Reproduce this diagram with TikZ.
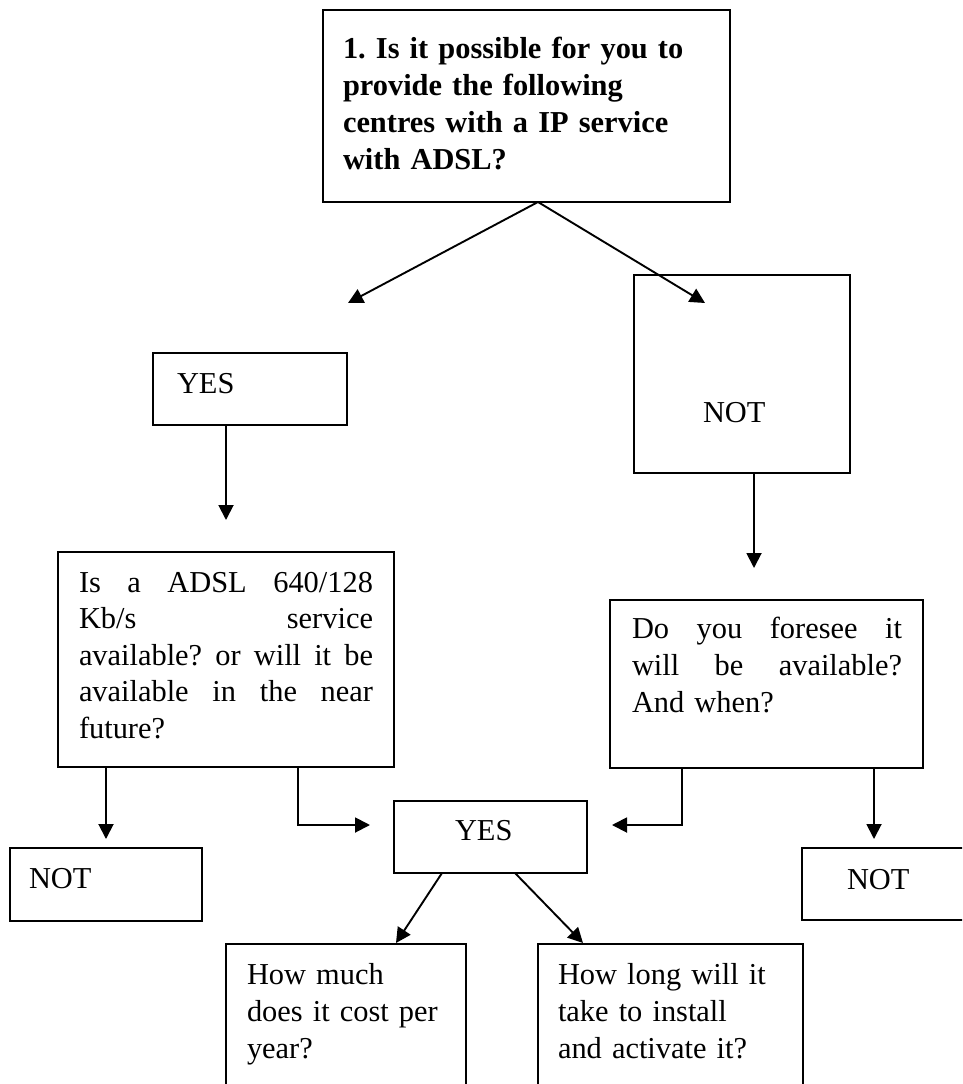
\documentclass[tikz,border=0pt]{standalone}
\usepackage{fontspec}
\setmainfont{Liberation Serif}
\usetikzlibrary{arrows.meta}
\frenchspacing
\newcommand{\jline}[2]{\leavevmode\hbox to #1{#2}}
\begin{document}
\begin{tikzpicture}[x=1pt,y=-1pt,
  box/.style={draw, line width=2.2pt, inner sep=0pt, outer sep=0pt, anchor=north west},
  txt/.style={inner sep=0pt, outer sep=0pt, anchor=base west, align=left, font=\frenchspacing\fontsize{30.4}{37.2}\selectfont},
  arr/.style={line width=1.9pt, -{Triangle[length=15pt,width=15pt]}}]
\useasboundingbox (0,0) rectangle (962,1084);
\fill[white] (0,0) rectangle (962,1084);
\clip (0,0) rectangle (962,1084);

% boxes
\node[box, minimum width=407pt, minimum height=192pt] (q1) at (323,10) {};
\node[box, minimum width=194pt, minimum height=72pt] (yes1) at (153,353) {};
\node[box, minimum width=216pt, minimum height=198pt] (not1) at (634,275) {};
\node[box, minimum width=336pt, minimum height=215pt] (adsl) at (58,552) {};
\node[box, minimum width=313pt, minimum height=168pt] (fore) at (610,600) {};
\node[box, minimum width=192pt, minimum height=73pt] (notL) at (10,848) {};
\node[box, minimum width=193pt, minimum height=72pt] (yes2) at (394,801) {};
\node[box, minimum width=200pt, minimum height=72pt] (notR) at (802,848) {};
\node[box, minimum width=240pt, minimum height=200pt] (cost) at (226,944) {};
\node[box, minimum width=265pt, minimum height=200pt] (inst) at (538,944) {};

% texts
\node[txt, text width=390pt, font=\frenchspacing\fontsize{30.4}{37.3}\selectfont\bfseries] (q1t) at (343,58)
  {1. Is it possible for you to\\provide the following\\centres with a IP service\\with ADSL?};
\node[txt] (yes1t) at (177,393) {YES};
\node[txt] (not1t) at (703,422) {NOT};
\node[txt, text width=300pt, font=\frenchspacing\fontsize{30.4}{36.6}\selectfont] (adslt) at (79,592)
  {\jline{294pt}{Is\hfill a\hfill ADSL\hfill 640/128}\\
   \jline{294pt}{Kb/s\hfill service}\\
   \jline{294pt}{available?\hfill or\hfill will\hfill it\hfill be}\\
   \jline{294pt}{available\hfill in\hfill the\hfill near}\\
   future?};
\node[txt, text width=275pt, font=\frenchspacing\fontsize{30.4}{37}\selectfont] (foret) at (632,638)
  {\jline{270pt}{Do\hfill you\hfill foresee\hfill it}\\
   \jline{270pt}{will\hfill be\hfill available?}\\
   And when?};
\node[txt] (notLt) at (29,888) {NOT};
\node[txt] (yes2t) at (455,840) {YES};
\node[txt] (notRt) at (847,889) {NOT};
\node[txt, text width=215pt] (costt) at (247,984) {How much\\does it cost per\\year?};
\node[txt, text width=240pt] (instt) at (558,984) {How long will it\\take to install\\and activate it?};

% connector points
\coordinate (v) at (538,202);
\coordinate (tYes1) at (348,303);
\coordinate (tNot1) at (705,303);
\coordinate (sYes1) at (226,425);
\coordinate (tAdsl) at (226,520);
\coordinate (sNot1) at (754,473);
\coordinate (tFore) at (754,568);
\coordinate (sA1) at (106,767);
\coordinate (tNotL) at (106,839);
\coordinate (sA2) at (298,767);
\coordinate (tY2L) at (370,825);
\coordinate (sF1) at (682,768);
\coordinate (tY2R) at (612,825);
\coordinate (sF2) at (874,768);
\coordinate (tNotR) at (874,839);
\coordinate (sY1) at (442,873);
\coordinate (tCost) at (396,943);
\coordinate (sY2) at (515,873);
\coordinate (tInst) at (583,943);

\draw[arr] (v) -- (tYes1);
\draw[arr] (v) -- (tNot1);
\draw[arr] (sYes1) -- (tAdsl);
\draw[arr] (sNot1) -- (tFore);
\draw[arr] (sA1) -- (tNotL);
\draw[arr] (sA2) |- (tY2L);
\draw[arr] (sF1) |- (tY2R);
\draw[arr] (sF2) -- (tNotR);
\draw[arr] (sY1) -- (tCost);
\draw[arr] (sY2) -- (tInst);
\end{tikzpicture}
\end{document}
